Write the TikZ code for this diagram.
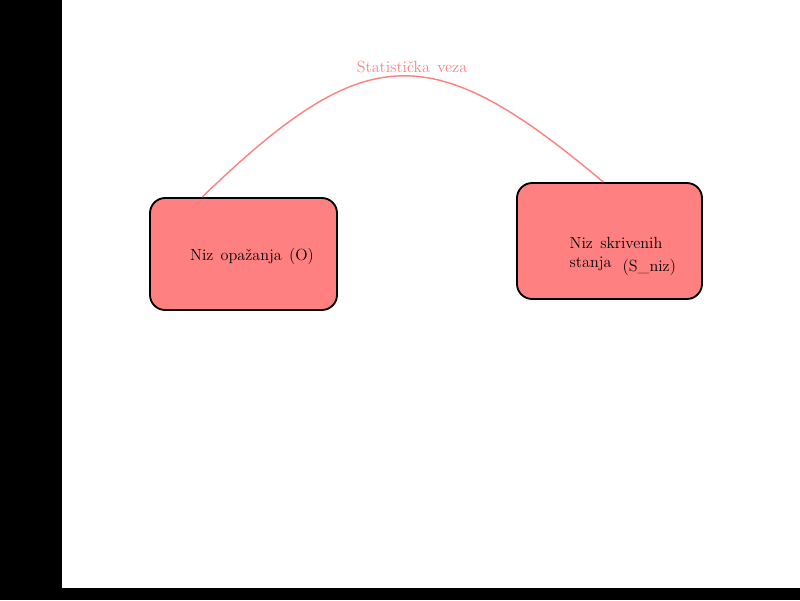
\documentclass[tikz,border=0pt]{standalone}
\usepackage{tikz}
\usetikzlibrary{positioning}
\definecolor{rozaBoja}{RGB}{255,128,128}
\newcommand\tekstSlova{\fontsize{11.5}{13}\selectfont\spaceskip=0.45em plus 0.1em\relax}
\tikzset{
	kutija/.style={draw=black,line width=1.3pt,fill=rozaBoja,rounded corners=0.38cm,inner sep=0pt},
	veza/.style={draw=rozaBoja,line width=1pt},
	tekst/.style={text=black,inner sep=1pt,font=\tekstSlova}
}
\begin{document}
\begin{tikzpicture}[x=0.025cm,y=-0.025cm]
			\useasboundingbox (0,0) rectangle (800,600);
			\fill[black] (0,0) rectangle (800,600);
			\fill[white] (62,0) rectangle (800,588);
			\node[kutija,minimum width=4.675cm,minimum height=2.8cm] (opazanja) at (243.5,254) {};
			\node[kutija,minimum width=4.625cm,minimum height=2.9cm] (skrivena) at (609.5,241) {};
			\draw[veza] (opazanja.126) .. controls (365,40) and (430,36) .. (skrivena.96);
			\node[tekst] (opazanjaTekst) at (252,256) {Niz opažanja (O)};
			\node[tekst,anchor=west,align=left] (stanjaTekst) at (568,254) {Niz skrivenih\\stanja};
			\node[tekst,anchor=west] (sNiz) at (621,267) {(S\_niz)};
			\node[tekst,text=rozaBoja] (vezaTekst) at (412,67) {Statistička veza};
		\end{tikzpicture}
\end{document}
